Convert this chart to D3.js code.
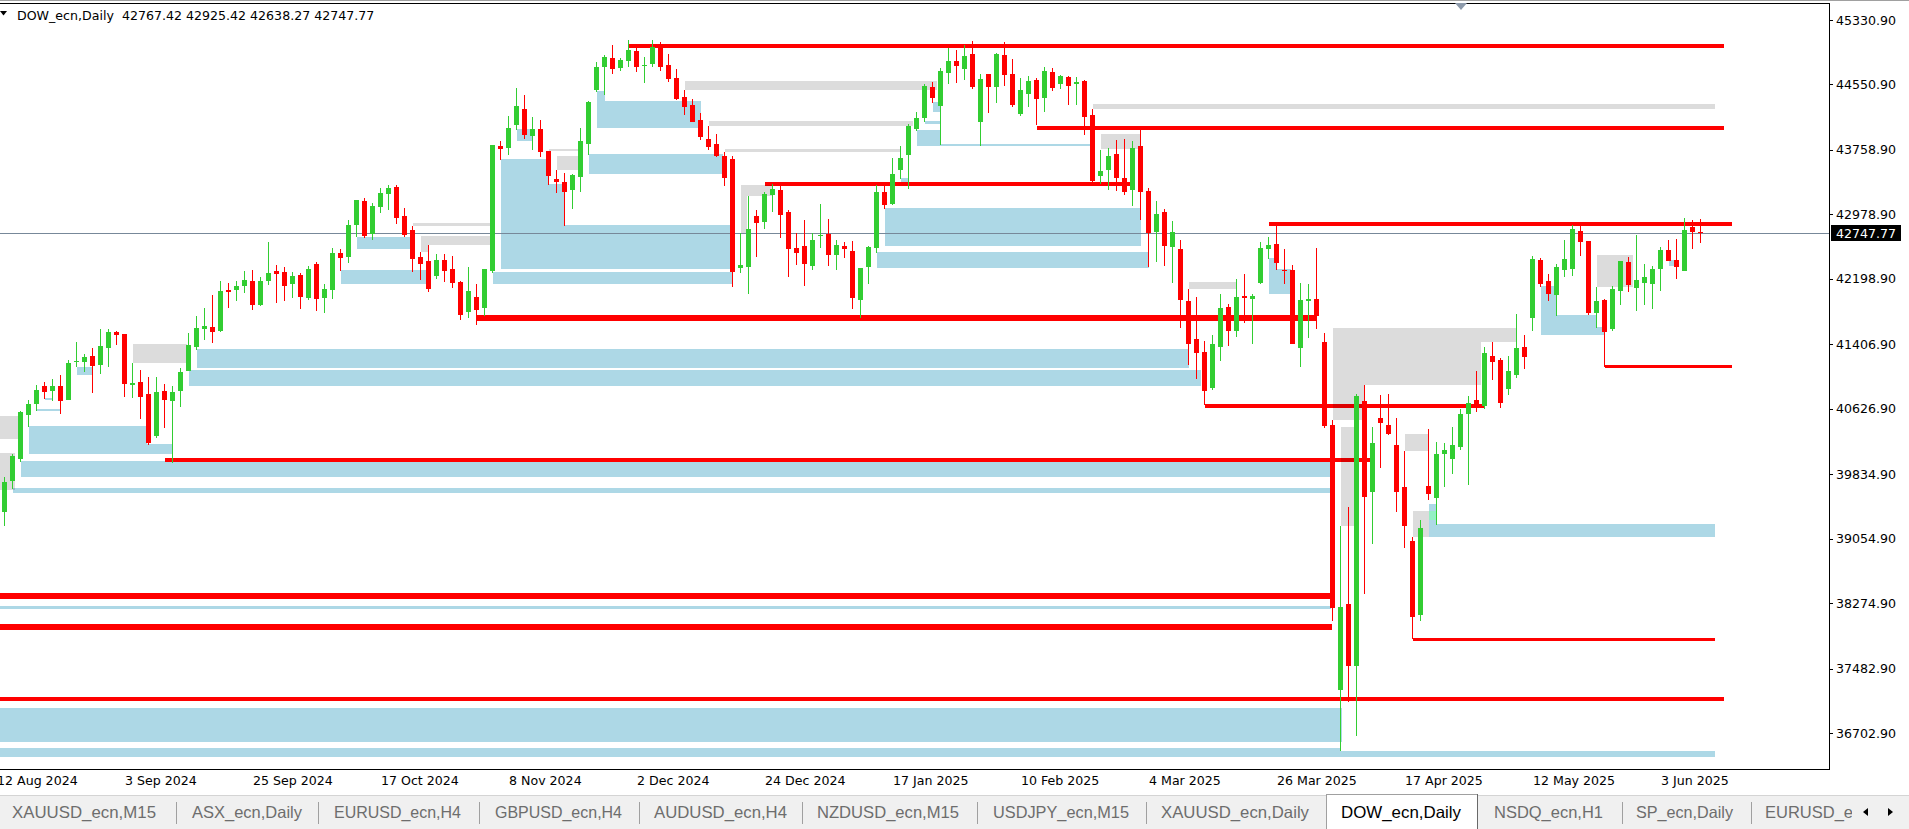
<!DOCTYPE html>
<html><head><meta charset="utf-8">
<script src="https://cdn.jsdelivr.net/npm/d3@7"></script>
<style>
html,body{margin:0;padding:0;background:#fff;overflow:hidden;}
svg{display:block;}
</style></head><body>
<svg id="chart" width="1909" height="829"></svg>
<script>
// ---------------- DATA ----------------
const symbolTitle = "DOW_ecn,Daily";
const lastQuote = [42767.42, 42925.42, 42638.27, 42747.77];
const bidPrice = 42747.77;

const opens = [39382,39757,40023,40556,40685,40902,40846,40902,40737,41193,
41193,41265,41156,41366,41556,41532,40919,40951,40806,40301,
40842,40725,40846,41088,41378,41596,41616,41572,42064,42064,
42116,42173,41887,42173,42294,42282,42141,42246,41971,42379,
41971,42068,42512,42467,42850,43141,42746,43072,43230,43310,
42959,42790,42463,42415,42237,42427,42318,42165,41802,41979,
41850,42298,43806,43786,44065,44254,43931,44012,43746,43407,
43371,43278,43435,43835,44488,44766,44871,44754,44839,44956,
44770,44803,45004,44786,44629,44399,44303,44121,43891,43831,
43685,43649,42334,42346,42959,42891,43218,43274,43008,42572,
42596,42358,42717,42742,42492,42596,42536,41947,42346,42576,
43250,43109,43520,43702,44016,44149,44520,44294,44694,44835,
44742,44920,44101,44678,44524,44907,44678,44198,44440,44605,
44391,44702,44561,44641,44561,44593,44181,43447,43520,43710,
43419,43278,43806,43262,42770,43008,42588,42560,41931,41471,
41314,40882,41379,41857,41571,41992,41960,42144,42565,42622,
42307,42307,41366,41935,41955,41436,40430,37227,38266,37517,
40716,39624,40516,40430,40188,39681,39027,38135,39693,39550,
40082,40025,40168,40561,40732,40663,41264,41215,40871,41039,
41374,41729,42427,42173,42007,42310,42322,42778,42657,41790,
41943,41596,42056,42403,42092,42153,42141,42322,42548,42427,
42298,42826,42767.42];

const highs = [39805,40080,40604,40733,40915,40951,40987,41036,41213,41435,
41290,41362,41592,41592,41572,41532,41181,41096,41011,41011,
40927,40902,41120,41544,41749,41846,42004,42173,42149,42173,
42294,42306,42221,42645,42366,42342,42282,42270,42354,42403,
42137,42572,42560,42911,43153,43177,43117,43298,43334,43334,
43056,42838,42524,42609,42500,42500,42475,42177,42342,42137,
42318,43819,43867,44169,44508,44423,44157,44121,43746,43516,
43480,43468,44024,44351,44823,44907,45028,44871,45089,45004,
44883,45089,45065,44920,44738,44484,44375,44206,44048,43952,
43734,43685,42754,43201,43032,43250,43347,43334,43032,42754,
42911,42754,43105,42923,42669,42645,42657,42330,42596,43334,
43334,43661,43806,44073,44218,44557,44581,44750,44992,44968,
45028,45077,44678,44678,44932,45065,44859,44629,44653,44629,
44762,44750,44665,44653,44641,44605,44254,43758,43782,43879,
43891,43867,44012,43298,43141,43044,42899,42669,42076,41979,
41447,41519,42017,41894,42197,42258,42017,42639,42704,42850,
42561,42365,42148,42135,42573,41542,40491,39207,39436,40806,
40912,40405,40794,40806,40516,40111,39076,39284,40381,40225,
40213,40405,40622,40781,41084,41375,41436,41240,41264,41771,
41519,42475,42451,42258,42379,42669,42850,42850,42657,42100,
41955,42112,42415,42463,42729,42379,42354,42584,42669,42681,
42935,42911,42925.42];

const lows = [39208,39652,39987,40410,40604,40741,40725,40568,40737,41128,
41076,40822,41052,41136,41403,40773,40761,40507,40193,40277,
40398,39975,40652,41088,41342,41463,41427,41560,41850,41935,
42032,41826,41874,42125,41911,41935,41971,41838,41947,41814,
41790,41959,42298,42395,42709,42697,42673,43000,43036,42867,
42709,42286,42189,42044,42201,42165,42092,41697,41729,41645,
41753,42274,43641,43702,44004,43895,43762,43677,43339,43242,
42842,43048,43254,43702,44464,44428,44682,44718,44766,44706,
44573,44766,44718,44585,44367,44186,44101,43883,43762,43677,
43326,42104,42274,42020,42467,42806,43012,42697,42225,42370,
42116,42310,42576,42358,42310,42455,41838,41729,42141,42516,
43048,43097,43411,43290,43992,44101,44331,43819,44557,44573,
44609,44500,43810,44210,44331,44536,44282,44173,44282,44065,
44222,44476,44500,44307,44307,43944,43363,43351,43278,43266,
43217,43084,42915,42346,42407,42358,42153,41608,41160,40991,
40676,40858,41207,41391,41497,41669,41416,42135,42442,42307,
42135,41416,41137,41485,41595,40393,38061,36482,37075,36670,
38388,38994,39914,40311,39382,38945,37840,38061,39517,39223,
39681,39841,40127,39710,40589,40630,40978,40638,40798,41002,
41112,41572,42104,41935,41753,42225,42237,42479,41761,41608,
41136,41572,41886,42044,41814,41886,41838,42056,42415,42201,
42298,42564,42638.27];

const closes = [39745,40055,40592,40685,40854,40834,40902,40725,41181,41205,
41253,41148,41386,41556,41524,40931,40939,40773,40213,40830,
40737,40830,41072,41399,41604,41628,41556,42052,42044,42112,
42185,41887,42173,42270,42262,42116,42233,41983,42318,41959,
42076,42512,42451,42850,43153,42721,43080,43238,43298,42939,
42734,42443,42383,42080,42427,42298,42153,41766,42052,41826,
42318,43819,43774,44024,44290,43944,44012,43738,43447,43375,
43254,43455,43867,44339,44762,44883,44742,44847,44968,44766,
44786,45004,44766,44621,44379,44282,44101,43919,43798,43689,
43423,42286,42366,42802,42879,43226,43286,42976,42564,42516,
42383,42669,42734,42492,42609,42564,41971,42330,42584,43250,
43097,43468,43661,44048,44145,44532,44391,44714,44835,44778,
44895,44524,44617,44524,44920,44670,44307,44484,44593,44379,
44714,44512,44653,44536,44581,44161,43387,43504,43685,43423,
43254,43782,43254,42758,42984,42600,42766,41947,41415,41306,
40846,41411,41845,41571,41980,41972,41992,42573,42610,42393,
42295,41416,41943,41955,41755,40417,38213,38229,37517,40781,
39562,40213,40458,40323,39624,39211,38110,39182,39599,40078,
40127,40188,40565,40696,40663,41301,41195,40700,41084,41362,
41257,42439,42141,42020,42342,42439,42802,42649,41786,41931,
41560,42076,42415,42128,42185,42221,42318,42548,42419,42346,
42790,42770,42747.77];

const priceTicks = [45330.90, 44550.90, 43758.90, 42978.90, 42198.90, 41406.90,
  40626.90, 39834.90, 39054.90, 38274.90, 37482.90, 36702.90];

const dateLabels = ["12 Aug 2024","3 Sep 2024","25 Sep 2024","17 Oct 2024","8 Nov 2024",
  "2 Dec 2024","24 Dec 2024","17 Jan 2025","10 Feb 2025","4 Mar 2025","26 Mar 2025",
  "17 Apr 2025","12 May 2025","3 Jun 2025"];
const dateLabelBars = [-1,15,31,47,63,79,95,111,127,143,159,175,191,207];

// horizontal level lines: [startBar, endBar, price]
const redLevels = [
  [78,214.9,45020],[129,214.9,44028],[95,140.75,43350],[158,215.9,42863],
  [59,164,41729],[200,215.9,41136],[150,185,40664],[20,170.7,40008],
  [-1,165.7,38360],[-1,165.9,37987],[176,213.8,37829],[-1,214.9,37116]];

// zones: [startBar, endBar, priceTop, priceBottom]
const blueZones = [
  [3,17.75,40418,40079],[17.75,21,40200,40079],[2,165.75,39995,39807],[1,165.75,39672,39611],
  [5,6,40757,40733],[4,7,40620,40603],[9,11,41136,41039],[24,148,41350,41124],
  [23,149.5,41096,40906],[44,50.75,42709,42560],[42,52.75,42306,42137],
  [62,67.9,43649,42318],[67.9,70,43347,42318],[70,90.75,42851,42318],[61,91,42282,42137],
  [64,66,44012,43871],[73,89.75,43710,43468],[74,75,44472,44351],[74,87,44351,44024],
  [110,142,43056,42597],[109,143,42524,42330],[112,113,43419,43371],[116,117,44339,44218],
  [114,117,44000,43806],[117,135.75,43831,43806],[115,117,44109,44073],
  [158,159,42451,42020],[159,160.75,42319,42020],
  [-1,165.75,38242,38209],[-1,167.2,37010,36592],[-1,167,36522,36408],[167,213.8,36490,36408],
  [178,179,39472,39232],[178,213.8,39232,39075],
  [192,194,42112,41520],[194,199,41762,41520],[199,200,41616,41520],[208,209,42427,42354]];

const grayZones = [
  [85,116.5,44593,44484],[136,213.8,44315,44254],[88,113.5,44109,44048],[90,112,43770,43737],
  [137,142,43952,43767],[148,154,42161,42076],[51,60.75,42875,42842],[52,60.75,42717,42609],
  [52,53,42609,42524],[16,22.75,41411,41184],[-1,1.7,40539,40265],[-1,1.3,40092,39644],
  [69,71.75,43685,43516],[68,71.75,43770,43750],[92,96,43335,43205],[92,92.75,43205,42754],
  [166,189,41604,41440],[166,184.5,41440,40917],[166,170.1,40917,40491],[167,168.75,40406,39208],
  [175,178,40322,40116],[176,178,39390,39075],[199,203.5,42488,42104]];

const overlapZones = [[178,179,39390,39285]];

const tabNames = ["XAUUSD_ecn,M15","ASX_ecn,Daily","EURUSD_ecn,H4","GBPUSD_ecn,H4",
  "AUDUSD_ecn,H4","NZDUSD_ecn,M15","USDJPY_ecn,M15","XAUUSD_ecn,Daily","DOW_ecn,Daily",
  "NSDQ_ecn,H1","SP_ecn,Daily","EURUSD_ec"];
const activeTab = "DOW_ecn,Daily";

// ---------------- LAYOUT / STYLE ----------------
const W = 1909, H = 829;
const plotR = 1829, plotT = 3, plotB = 769;
const redWidths = [4,4,4,3.7,5.7,3,4,4,6,6,3,4];
const tabX = [12,192,334,495,654,817,993,1161,1341,1494,1636,1765];
const tabW = [144,110,127,127,133,142,136,148,120,109,97,null];
const tabSeps = [176,318,479,639,802,977,1146,1622,1751];
const FONT = "DejaVu Sans";

const svg = d3.select("#chart").attr("shape-rendering","crispEdges");
svg.append("rect").attr("width",W).attr("height",H).attr("fill","#fff");

const x = d3.scaleLinear().domain([0,1]).range([4.5,12.5]);
const y = d3.scaleLinear().domain([36268,45536.7]).range([plotB,plotT]);

const defs = svg.append("defs");
defs.append("clipPath").attr("id","plotClip").append("rect")
  .attr("x",0).attr("y",plotT).attr("width",plotR).attr("height",plotB-plotT);
defs.append("clipPath").attr("id","tabClip").append("rect")
  .attr("x",0).attr("y",790).attr("width",1852).attr("height",40);

const plot = svg.append("g").attr("clip-path","url(#plotClip)");

function zones(g, data, fill, blend){
  const sel = g.selectAll(null).data(data).join("rect")
    .attr("x", d => x(d[0]))
    .attr("width", d => x(d[1]) - x(d[0]))
    .attr("y", d => y(d[2]))
    .attr("height", d => Math.max(1, y(d[3]) - y(d[2])))
    .attr("fill", fill);
  if (blend) sel.style("mix-blend-mode", blend);
}

const gBlue = plot.append("g");
zones(gBlue, blueZones, "#add8e6");

const gRed = plot.append("g");
gRed.selectAll(null).data(redLevels).join("rect")
  .attr("x", d => x(d[0]))
  .attr("width", d => x(d[1]) - x(d[0]))
  .attr("y", (d,i) => y(d[2]) - redWidths[i]/2)
  .attr("height", (d,i) => redWidths[i])
  .attr("fill", "#ff0000");

const gGray = plot.append("g");
zones(gGray, grayZones, "#dcdcdc", "multiply");
zones(plot.append("g"), overlapZones, "#94f0c4");

// bid line
plot.append("line").attr("x1",0).attr("x2",plotR)
  .attr("y1", Math.round(y(bidPrice))+0.5).attr("y2", Math.round(y(bidPrice))+0.5)
  .attr("stroke","#778899").attr("stroke-width",1);

// candles
const candles = opens.map((o,i) => ({i, o, h: highs[i], l: lows[i], c: closes[i]}));
const gC = plot.append("g");
const col = d => d.c >= d.o ? "#32cd32" : "#ff0000";
gC.selectAll(".wick").data(candles).join("rect").attr("class","wick")
  .attr("x", d => x(d.i) - 0.5).attr("width", 1)
  .attr("y", d => y(d.h)).attr("height", d => Math.max(1, y(d.l) - y(d.h)))
  .attr("fill", col);
gC.selectAll(".body").data(candles).join("rect").attr("class","body")
  .attr("x", d => x(d.i) - 2.5).attr("width", 5)
  .attr("y", d => y(Math.max(d.o,d.c)))
  .attr("height", d => Math.max(1, Math.abs(y(d.o) - y(d.c))))
  .attr("fill", col);

// frame
svg.append("line").attr("x1",0).attr("x2",W).attr("y1",0.5).attr("y2",0.5).attr("stroke","#a0a0a0");
svg.append("line").attr("x1",0).attr("x2",plotR+1).attr("y1",plotT+0.5).attr("y2",plotT+0.5).attr("stroke","#000");
svg.append("line").attr("x1",0).attr("x2",plotR+1).attr("y1",plotB+0.5).attr("y2",plotB+0.5).attr("stroke","#000");
svg.append("line").attr("x1",plotR+0.5).attr("x2",plotR+0.5).attr("y1",plotT).attr("y2",plotB+1).attr("stroke","#000");

// price axis
const yAxis = d3.axisRight(y).tickValues(priceTicks).tickFormat(d3.format(".2f"))
  .tickSize(3).tickPadding(3);
svg.append("g").attr("transform",`translate(${plotR+1},0)`).call(yAxis)
  .attr("font-family",FONT).attr("font-size",12.6)
  .call(g => g.select(".domain").remove())
  .call(g => g.selectAll("text").attr("fill","#000"))
  .call(g => g.selectAll("line").attr("stroke","#000"));

// bid price label
const by = y(bidPrice);
svg.append("rect").attr("x",plotR+2).attr("y",Math.round(by)-8).attr("width",70).attr("height",16).attr("fill","#000");
svg.append("text").attr("x",plotR+7).attr("y",by).attr("dy","0.36em")
  .attr("font-family",FONT).attr("font-size",12.6).attr("fill","#fff").text(d3.format(".2f")(bidPrice));

// time axis
const xAxis = d3.axisBottom(x).tickValues(dateLabelBars)
  .tickFormat((d,i) => dateLabels[i]).tickSize(0).tickPadding(7);
svg.append("g").attr("transform",`translate(0,${plotB})`).call(xAxis)
  .attr("font-family",FONT).attr("font-size",12.6)
  .call(g => g.select(".domain").remove())
  .call(g => g.selectAll("text").attr("text-anchor","start").attr("fill","#000"));

// header
svg.append("path").attr("d","M0,11 L7,11 L3.5,15.5 Z").attr("fill","#000").attr("shape-rendering","auto");
svg.append("text").attr("x",17).attr("y",19.5).attr("xml:space","preserve")
  .attr("font-family",FONT).attr("font-size",12.6).attr("fill","#000")
  .text(symbolTitle + "  " + lastQuote.map(v => v.toFixed(2)).join(" "));

// chart-shift marker
svg.append("path").attr("d","M1455,3 L1467,3 L1461,10 Z").attr("fill","#8d9aab").attr("shape-rendering","auto");

// tab bar
svg.append("rect").attr("x",0).attr("y",796).attr("width",W).attr("height",33).attr("fill","#f0f0f0");
svg.append("line").attr("x1",0).attr("x2",W).attr("y1",795.5).attr("y2",795.5).attr("stroke","#d4d4d4");
const ai = tabNames.indexOf(activeTab);
svg.append("rect").attr("x",1326).attr("y",794).attr("width",151).attr("height",35).attr("fill","#fff");
svg.append("path").attr("d","M1326.5,829 L1326.5,794.5 L1476.5,794.5").attr("fill","none").attr("stroke","#a0a0a0");
svg.append("line").attr("x1",1477.5).attr("x2",1477.5).attr("y1",794).attr("y2",829).attr("stroke","#696969");
svg.selectAll(".sep").data(tabSeps).join("line").attr("class","sep")
  .attr("x1",d=>d+0.5).attr("x2",d=>d+0.5).attr("y1",802).attr("y2",824).attr("stroke","#a0a0a0");
const gTabs = svg.append("g").attr("clip-path","url(#tabClip)");
gTabs.selectAll(".tab").data(tabNames).join("text").attr("class","tab")
  .attr("x",(d,i)=>tabX[i]).attr("y",818)
  .attr("font-family","Liberation Sans").attr("font-size",16.5)
  .attr("fill",(d,i)=> i===ai ? "#000" : "#6d6d6d")
  .each(function(d,i){ if (tabW[i]) d3.select(this).attr("textLength",tabW[i]).attr("lengthAdjust","spacingAndGlyphs"); })
  .text(d=>d);
svg.append("path").attr("d","M1863,812 L1868,808 L1868,816 Z").attr("fill","#000").attr("shape-rendering","auto");
svg.append("path").attr("d","M1893,812 L1888,808 L1888,816 Z").attr("fill","#000").attr("shape-rendering","auto");
</script>
</body></html>
